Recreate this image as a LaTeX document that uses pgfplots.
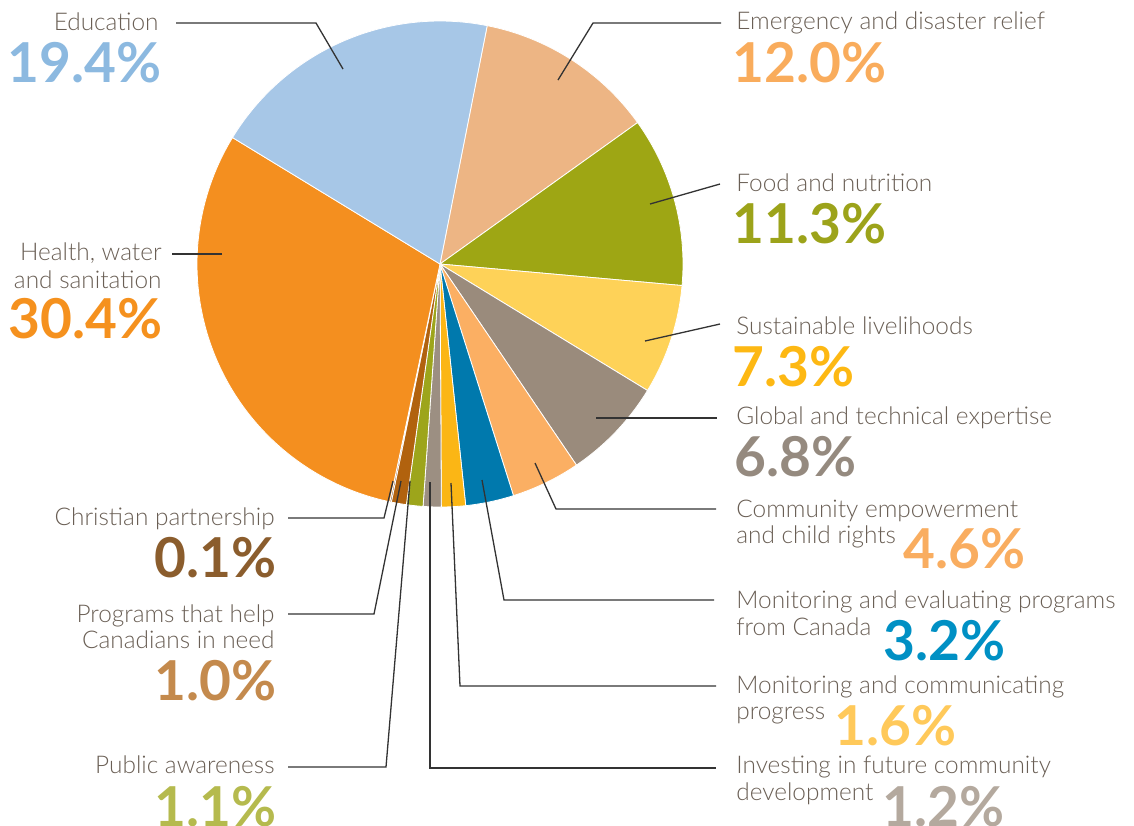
\documentclass[border=0pt]{standalone}
\usepackage{fontspec}
\setmainfont{Lato}[UprightFont=* Light, BoldFont=* Bold]
\usepackage{pgfplots}
\pgfplotsset{compat=1.18}
% slice colours
\definecolor{seduc}{HTML}{A7C7E7}
\definecolor{semer}{HTML}{EDB584}
\definecolor{sfood}{HTML}{9EA614}
\definecolor{ssust}{HTML}{FED258}
\definecolor{sglob}{HTML}{9A8B7C}
\definecolor{scomm}{HTML}{FBAF63}
\definecolor{smonc}{HTML}{0079AD}
\definecolor{smcom}{HTML}{FBB615}
\definecolor{sinv}{HTML}{9C8F82}
\definecolor{spub}{HTML}{9DA51B}
\definecolor{sprog}{HTML}{B1620E}
\definecolor{schr}{HTML}{7A4A1F}
\definecolor{shealth}{HTML}{F48F1F}
% percentage colours
\definecolor{peduc}{HTML}{8CB9E0}
\definecolor{pemer}{HTML}{F9AC5C}
\definecolor{pfood}{HTML}{9CA31A}
\definecolor{psust}{HTML}{FDB813}
\definecolor{pglob}{HTML}{958A7F}
\definecolor{pcomm}{HTML}{F9AD60}
\definecolor{pmonc}{HTML}{0090C4}
\definecolor{pmcom}{HTML}{FFC95A}
\definecolor{pinv}{HTML}{B4A99E}
\definecolor{ppub}{HTML}{B5BA4E}
\definecolor{pprog}{HTML}{C48A4D}
\definecolor{pchr}{HTML}{8B5D2D}
\definecolor{phealth}{HTML}{F5911E}
\definecolor{labtxt}{HTML}{6A5F55}
\definecolor{leadc}{HTML}{333333}
\begin{document}
\begin{tikzpicture}[
  lab/.style={inner sep=0pt, text=labtxt, font=\fontsize{12.2}{13}\selectfont},
  pct/.style={inner sep=0pt, font=\fontsize{27.5}{30}\selectfont\bfseries},
  lead/.style={draw=leadc, line width=0.65pt}]
\begin{axis}[x=0.5pt, y=0.5pt, xmin=0, xmax=1134, ymin=0, ymax=825,
  y dir=reverse, hide axis, clip=false, at={(0,0)}, anchor=origin]
\xdef\curang{78.8}
\foreach \p/\c in {12.0/emer, 11.3/food, 7.3/sust, 6.8/glob, 4.6/comm, 3.2/monc,
                   1.6/mcom, 1.2/inv, 1.1/pub, 1.0/prog, 0.1/chr, 30.4/health, 19.4/educ}{
  \pgfmathsetmacro\nextang{\curang-3.6*\p}
  \edef\temp{\noexpand\fill[s\c, draw=white, line width=0.4pt] (axis cs:440,264) -- ++(\curang:121.5pt) arc[start angle=\curang, end angle=\nextang, radius=121.5pt] -- cycle;}
  \temp
  \xdef\curang{\nextang}
}
% leader lines
\draw[lead] (axis cs:343,69) -- (axis cs:316,23) -- (axis cs:176,23);
\draw[lead] (axis cs:558,80) -- (axis cs:593,23) -- (axis cs:721,23);
\draw[lead] (axis cs:650,204) -- (axis cs:720,184);
\draw[lead] (axis cs:645,341) -- (axis cs:720,324);
\draw[lead] (axis cs:596,418) -- (axis cs:717,418);
\draw[lead] (axis cs:535,463) -- (axis cs:556,509) -- (axis cs:716,509);
\draw[lead] (axis cs:482,480) -- (axis cs:504,600) -- (axis cs:714,600);
\draw[lead] (axis cs:451,483) -- (axis cs:460,686) -- (axis cs:716,686);
\draw[lead] (axis cs:430,482) -- (axis cs:430,768) -- (axis cs:716,768);
\draw[lead] (axis cs:410,481) -- (axis cs:386,767) -- (axis cs:288,767);
\draw[lead] (axis cs:401,481) -- (axis cs:374,614) -- (axis cs:288,614);
\draw[lead] (axis cs:393,481) -- (axis cs:384,518) -- (axis cs:288,518);
\draw[lead] (axis cs:222,254) -- (axis cs:172,254);
% left labels
\node[lab, anchor=base east] at (axis cs:159,30) {Education};
\node[pct, text=peduc, anchor=base east] at (axis cs:162,82) {19.4\%};
\node[lab, anchor=base east] at (axis cs:162,260) {Health, water};
\node[lab, anchor=base east] at (axis cs:162,288) {and sanitation};
\node[pct, text=phealth, anchor=base east] at (axis cs:163,338) {30.4\%};
\node[lab, anchor=base east] at (axis cs:275,525) {Christian partnership};
\node[pct, text=pchr, anchor=base east] at (axis cs:277,577) {0.1\%};
\node[lab, anchor=base east] at (axis cs:275,622) {Programs that help};
\node[lab, anchor=base east] at (axis cs:275,648) {Canadians in need};
\node[pct, text=pprog, anchor=base east] at (axis cs:277,700) {1.0\%};
\node[lab, anchor=base east] at (axis cs:275,773) {Public awareness};
\node[pct, text=ppub, anchor=base east] at (axis cs:277,826) {1.1\%};
% right labels
\node[lab, anchor=base west] at (axis cs:736,29) {Emergency and disaster relief};
\node[pct, text=pemer, anchor=base west] at (axis cs:732,82) {12.0\%};
\node[lab, anchor=base west] at (axis cs:736,191) {Food and nutrition};
\node[pct, text=pfood, anchor=base west] at (axis cs:732,243) {11.3\%};
\node[lab, anchor=base west] at (axis cs:736,334) {Sustainable livelihoods};
\node[pct, text=psust, anchor=base west] at (axis cs:732,386) {7.3\%};
\node[lab, anchor=base west] at (axis cs:736,424) {Global and technical expertise};
\node[pct, text=pglob, anchor=base west] at (axis cs:734,476) {6.8\%};
\node[lab, anchor=base west] at (axis cs:736,517) {Community empowerment};
\node[lab, anchor=base west] at (axis cs:736,543) {and child rights};
\node[pct, text=pcomm, anchor=base west] at (axis cs:903,568) {4.6\%};
\node[lab, anchor=base west] at (axis cs:736,608) {Monitoring and evaluating programs};
\node[lab, anchor=base west] at (axis cs:736,635) {from Canada};
\node[pct, text=pmonc, anchor=base west] at (axis cs:883,660) {3.2\%};
\node[lab, anchor=base west] at (axis cs:736,693) {Monitoring and communicating};
\node[lab, anchor=base west] at (axis cs:736,719) {progress};
\node[pct, text=pmcom, anchor=base west] at (axis cs:834,745) {1.6\%};
\node[lab, anchor=base west] at (axis cs:736,773) {Investing in future community};
\node[lab, anchor=base west] at (axis cs:736,800) {development};
\node[pct, text=pinv, anchor=base west] at (axis cs:882,826) {1.2\%};
\end{axis}
\pgfresetboundingbox
\path (0,0) rectangle (567pt,-412.5pt);
\end{tikzpicture}
\end{document}
